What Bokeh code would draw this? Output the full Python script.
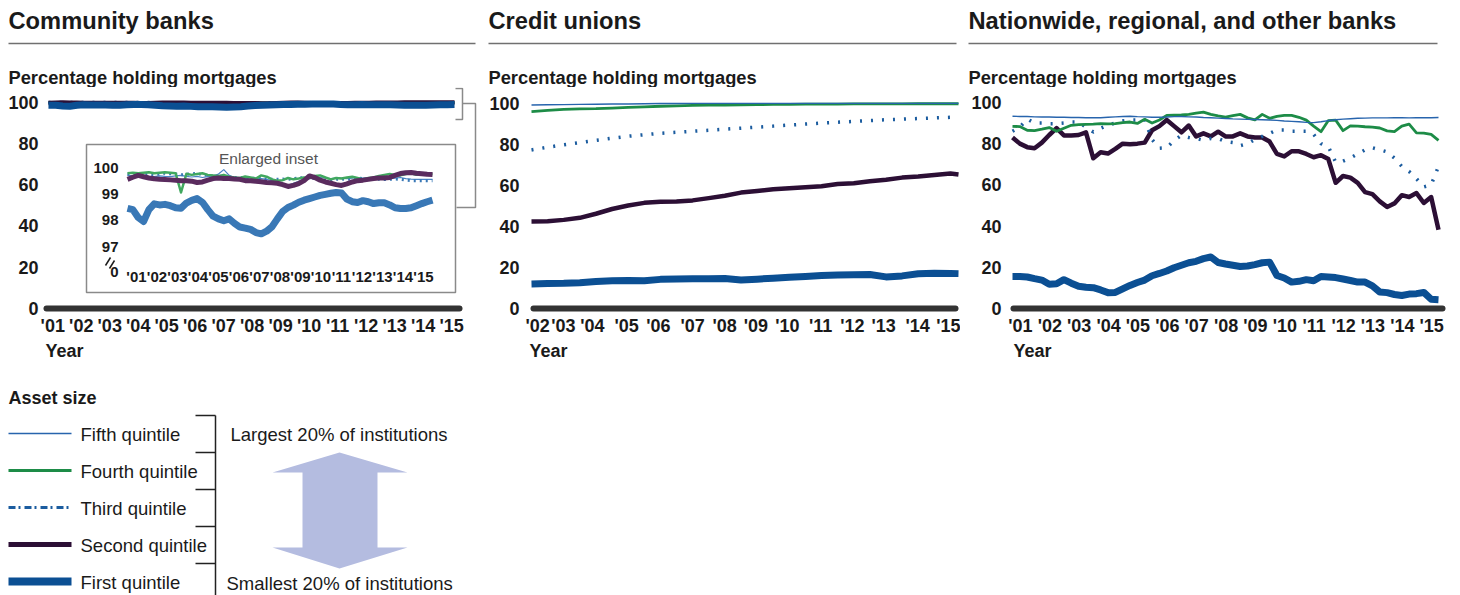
from bokeh.plotting import figure
from bokeh.models import Range1d, FixedTicker, CustomJSTickFormatter
from bokeh.layouts import row, column
from bokeh.embed import file_html
from bokeh.resources import INLINE
from bokeh.core.properties import value

FONT = "Liberation Sans"
INK = "#1a1a1a"

# ------------------------------------------------------------------ data
PANEL_TITLES = ["Community banks", "Credit unions", "Nationwide, regional, and other banks"]
SUBTITLE = "Percentage holding mortgages"
X_TITLE = "Year"
YEAR_LABELS = ["'01", "'02", "'03", "'04", "'05", "'06", "'07", "'08", "'09", "'10",
               "'11", "'12", "'13", "'14", "'15"]
CU_TICK_LABELS = ["'02", "'03", "'04", "'05", "'06", "'07", "'08", "'09", "'10",
                  "'11", "'12", "'13", "'14", "'15"]
Y_TICKS = [0, 20, 40, 60, 80, 100]
INSET_Y_TICKS = [100, 99, 98, 97]
INSET_TITLE = "Enlarged inset"
LEGEND_TITLE = "Asset size"
QUINTILES = ["Fifth quintile", "Fourth quintile", "Third quintile", "Second quintile", "First quintile"]
SIZE_NOTES = ["Largest 20% of institutions", "Smallest 20% of institutions"]

# Community banks, quarterly 2001Q1 .. 2015Q2
CB_X = [2001 + q / 4 for q in range(58)]
CB_FIRST = [98.45, 98.40, 98.10, 97.95, 98.40, 98.62, 98.58, 98.60, 98.55, 98.47, 98.45, 98.65,
            98.75, 98.82, 98.68, 98.40, 98.15, 98.05, 97.98, 98.05, 97.88, 97.74, 97.70, 97.65,
            97.53, 97.48, 97.58, 97.75, 98.05, 98.33, 98.48, 98.57, 98.68, 98.76, 98.82, 98.88,
            98.94, 98.98, 99.02, 99.05, 99.03, 98.80, 98.70, 98.67, 98.74, 98.70, 98.63, 98.66,
            98.66, 98.58, 98.47, 98.44, 98.44, 98.47, 98.55, 98.63, 98.70, 98.76]
CB_SECOND = [99.55, 99.63, 99.70, 99.65, 99.60, 99.57, 99.55, 99.54, 99.53, 99.52, 99.50, 99.50,
             99.48, 99.43, 99.45, 99.52, 99.58, 99.60, 99.58, 99.58, 99.56, 99.55, 99.50, 99.50,
             99.48, 99.46, 99.43, 99.42, 99.40, 99.35, 99.28, 99.32, 99.39, 99.50, 99.68, 99.62,
             99.52, 99.45, 99.40, 99.35, 99.32, 99.38, 99.45, 99.50, 99.52, 99.55, 99.58, 99.60,
             99.60, 99.62, 99.70, 99.77, 99.80, 99.81, 99.78, 99.76, 99.74, 99.73]
CB_THIRD = [99.75, 99.72, 99.70, 99.72, 99.74, 99.72, 99.75, 99.78, 99.76, 99.75, 99.72, 99.74,
            99.76, 99.78, 99.72, 99.70, 99.68, 99.66, 99.65, 99.64, 99.62, 99.63, 99.60, 99.58,
            99.60, 99.58, 99.56, 99.55, 99.55, 99.56, 99.55, 99.58, 99.60, 99.62, 99.60, 99.58,
            99.55, 99.50, 99.52, 99.55, 99.56, 99.55, 99.58, 99.60, 99.58, 99.55, 99.55, 99.56,
            99.54, 99.55, 99.56, 99.55, 99.52, 99.50, 99.50, 99.50, 99.50, 99.50]
CB_FOURTH = [99.78, 99.80, 99.78, 99.80, 99.82, 99.78, 99.80, 99.82, 99.80, 99.78, 99.05, 99.76,
             99.72, 99.75, 99.78, 99.72, 99.70, 99.68, 99.72, 99.65, 99.62, 99.60, 99.66, 99.62,
             99.58, 99.70, 99.65, 99.55, 99.50, 99.52, 99.60, 99.55, 99.58, 99.62, 99.60, 99.68,
             99.70, 99.62, 99.55, 99.60, 99.58, 99.62, 99.65, 99.60, 99.55, 99.60, 99.62, 99.68,
             99.72, 99.75, 99.72, 99.70, 99.75, 99.78, 99.72, 99.75, 99.74, 99.75]
CB_FIFTH = [99.70, 99.68, 99.65, 99.60, 99.62, 99.65, 99.68, 99.66, 99.65, 99.68, 99.70, 99.66,
            99.64, 99.66, 99.62, 99.65, 99.68, 99.75, 99.92, 99.70, 99.62, 99.60, 99.58, 99.62,
            99.60, 99.58, 99.55, 99.50, 99.42, 99.35, 99.32, 99.40, 99.48, 99.55, 99.58, 99.60,
            99.62, 99.60, 99.58, 99.60, 99.60, 99.58, 99.60, 99.62, 99.60, 99.62, 99.60, 99.62,
            99.60, 99.58, 99.60, 99.62, 99.58, 99.56, 99.55, 99.55, 99.55, 99.55]

# Credit unions, half-yearly 2002 .. 2015 plus 2015Q2
CU_X = [2002 + h / 2 for h in range(27)] + [2015.25]
CU_FIRST = [12.0, 12.2, 12.3, 12.6, 13.2, 13.5, 13.7, 13.5, 14.2, 14.4, 14.5, 14.5, 14.6, 13.9,
            14.3, 14.8, 15.2, 15.6, 16.1, 16.3, 16.5, 16.6, 15.4, 15.9, 16.9, 17.2, 17.1, 17.0]
CU_SECOND = [42.4, 42.5, 43.2, 44.2, 46.2, 48.5, 50.2, 51.5, 52.0, 52.2, 52.7, 53.8, 55.0, 56.5,
             57.3, 58.1, 58.6, 59.1, 59.6, 60.7, 61.1, 62.0, 62.8, 63.8, 64.3, 65.1, 65.8, 65.3]
CU_THIRD = [77.3, 78.6, 79.8, 80.9, 82.0, 83.0, 84.0, 84.7, 85.4, 85.9, 86.4, 86.9, 87.4, 87.9,
            88.4, 88.9, 89.4, 89.9, 90.4, 90.8, 91.2, 91.6, 92.0, 92.3, 92.6, 92.9, 93.2, 93.2]
CU_FOURTH = [96.0, 96.6, 97.1, 97.3, 97.4, 97.7, 98.0, 98.3, 98.6, 98.8, 99.0, 99.1, 99.2, 99.3,
             99.4, 99.5, 99.5, 99.6, 99.6, 99.6, 99.7, 99.7, 99.7, 99.7, 99.8, 99.8, 99.8, 99.8]
CU_FIFTH = [99.2, 99.3, 99.4, 99.5, 99.6, 99.7, 99.7, 99.8, 99.9, 99.9, 100.0, 100.0, 100.0, 100.0,
            100.0, 100.0, 100.0, 100.0, 100.0, 100.0, 100.0, 100.0, 100.0, 100.0, 100.0, 100.0, 100.0, 100.0]

# Nationwide, regional and other banks, quarterly 2001Q1 .. 2015Q3
NW_X = [2001 + q / 4 for q in range(59)]
NW_FIRST = [15.5, 15.5, 15.3, 14.5, 13.8, 11.8, 12.0, 14.0, 12.3, 10.8, 10.3, 10.1, 9.0, 7.7, 7.8, 9.5,
            11.2, 12.6, 13.8, 15.9, 17.0, 18.2, 19.8, 21.0, 22.2, 22.9, 24.2, 25.0, 22.3, 21.6, 21.0, 20.4,
            20.6, 21.3, 22.2, 22.5, 16.0, 14.8, 12.8, 13.2, 14.0, 13.5, 15.5, 15.3, 15.0, 14.3, 13.6, 12.8,
            12.8, 11.0, 8.0, 7.7, 6.8, 6.3, 7.0, 7.2, 7.8, 4.5, 4.3]
NW_SECOND = [83.0, 80.0, 78.3, 77.8, 80.5, 84.2, 87.5, 84.0, 84.0, 84.2, 85.5, 72.9, 75.8, 75.2, 77.5, 80.0,
             79.7, 80.0, 80.5, 86.5, 88.5, 91.5, 88.5, 85.5, 88.8, 83.5, 85.0, 83.5, 85.8, 83.5, 83.5, 85.0,
             83.5, 83.0, 83.0, 81.0, 75.0, 73.8, 76.3, 76.3, 75.0, 73.4, 74.4, 72.5, 61.0, 64.3, 63.5, 61.0,
             56.5, 55.5, 52.0, 49.3, 51.0, 55.0, 54.1, 56.0, 51.2, 54.1, 38.2]
NW_THIRD = [86.0, 88.0, 92.0, 90.0, 90.0, 89.7, 89.7, 90.0, 90.5, 90.5, 88.0, 85.7, 87.5, 89.0, 90.0, 91.0,
            91.5, 91.5, 91.5, 82.0, 77.8, 78.0, 81.6, 84.0, 83.0, 82.5, 81.6, 82.5, 82.5, 81.0, 80.5, 79.0,
            80.0, 82.0, 83.5, 85.0, 86.6, 86.6, 86.0, 86.0, 86.0, 84.5, 80.0, 78.5, 71.0, 71.5, 73.0, 75.0,
            77.0, 78.0, 77.0, 76.0, 73.0, 69.0, 66.5, 63.0, 59.0, 60.0, 69.0]
NW_FOURTH = [88.4, 88.3, 86.5, 86.3, 87.0, 87.8, 86.0, 87.5, 88.9, 89.2, 89.4, 89.5, 89.7, 89.6, 89.7, 90.2,
             90.5, 89.8, 91.8, 90.0, 91.5, 93.7, 93.8, 93.9, 94.2, 94.8, 95.3, 94.2, 93.5, 92.9, 93.6, 94.2,
             92.5, 91.5, 94.2, 92.3, 93.2, 93.7, 93.7, 92.8, 91.4, 88.5, 85.8, 91.2, 91.4, 86.3, 88.6, 88.5,
             88.2, 88.0, 87.6, 86.2, 85.8, 88.5, 89.5, 85.2, 85.1, 84.5, 81.6]
NW_FIFTH = [93.3, 93.2, 93.2, 93.0, 92.9, 92.9, 92.8, 92.8, 92.7, 92.7, 92.6, 92.6, 92.6, 92.8, 93.0, 93.2,
            93.3, 93.1, 93.0, 92.8, 92.8, 92.9, 93.1, 93.2, 93.0, 92.9, 92.7, 92.6, 92.4, 92.2, 92.0, 91.9,
            91.8, 91.7, 91.6, 91.5, 91.3, 91.0, 90.8, 90.6, 90.3, 90.2, 90.6, 91.2, 91.6, 91.9, 92.1, 92.3,
            92.4, 92.5, 92.5, 92.5, 92.6, 92.6, 92.5, 92.6, 92.6, 92.6, 92.7]

for s in (CB_FIRST, CB_SECOND, CB_THIRD, CB_FOURTH, CB_FIFTH):
    assert len(s) == len(CB_X)
for s in (CU_FIRST, CU_SECOND, CU_THIRD, CU_FOURTH, CU_FIFTH):
    assert len(s) == len(CU_X)
for s in (NW_FIRST, NW_SECOND, NW_THIRD, NW_FOURTH, NW_FIFTH):
    assert len(s) == len(NW_X)

# ------------------------------------------------------------------ styles
MAIN = {
    "fifth": dict(line_color="#2764ad", line_width=1.4),
    "fourth": dict(line_color="#1d8c47", line_width=2.8),
    "third": dict(line_color="#1b5c9f", line_width=3.5, line_dash="2 9"),
    "second": dict(line_color="#2c0f35", line_width=4.5),
    "first": dict(line_color="#0b4f93", line_width=7),
}
INSET = {
    "fifth": dict(line_color="#4a83c4", line_width=1.2),
    "fourth": dict(line_color="#41a85f", line_width=2.5),
    "third": dict(line_color="#3978b6", line_width=3.0, line_dash="2 4"),
    "second": dict(line_color="#5a2b5e", line_width=5),
    "first": dict(line_color="#3978b6", line_width=7),
}
LEGEND_STYLE = [
    dict(line_color="#2764ad", line_width=1.5),
    dict(line_color="#1d8c47", line_width=3),
    dict(line_color="#1b5c9f", line_width=3, line_dash="7 3 2 4"),
    dict(line_color="#2c0f35", line_width=5),
    dict(line_color="#0b4f93", line_width=8),
]

TICK_JS = """
let best = 0, d = Infinity;
for (let i = 0; i < pos.length; i++) { const e = Math.abs(pos[i] - tick); if (e < d) { d = e; best = i; } }
return labels[best];
"""

PAGE_W = 1460
HEAD_H = 87        # heading strip: y 0..87
ROW_TOP, ROW_BOTTOM = 87, 340   # chart row
PAGE_H = 595


def lin_range(v1, p1, v2, p2, plo, phi):
    s = (p2 - p1) / (v2 - v1)
    return Range1d(start=v1 + (plo - p1) / s, end=v1 + (phi - p1) / s)


def canvas(x0, x1, y0, y1):
    p = figure(width=x1 - x0, height=y1 - y0, x_range=Range1d(x0, x1), y_range=Range1d(y1, y0),
               output_backend="svg", toolbar_location=None,
               x_axis_location=None, y_axis_location=None, min_border=0)
    p.outline_line_color = None
    p.grid.visible = False
    return p


def make_panel(fig_left, width, fl, fr, fb, xr, yr, ticks, labels, bounds, ystand):
    p = figure(width=width, height=ROW_BOTTOM - ROW_TOP, x_range=xr, y_range=yr,
               output_backend="svg", toolbar_location=None,
               min_border_left=fl - fig_left, min_border_right=fig_left + width - fr,
               min_border_top=0, min_border_bottom=ROW_BOTTOM - fb)
    p.outline_line_color = None
    p.grid.visible = False
    xa = p.xaxis[0]
    xa.ticker = FixedTicker(ticks=ticks)
    xa.formatter = CustomJSTickFormatter(args=dict(pos=ticks, labels=labels), code=TICK_JS)
    xa.bounds = bounds
    xa.axis_line_width = 6
    xa.axis_line_color = "#333333"
    xa.axis_line_cap = "round"
    ya = p.yaxis[0]
    ya.ticker = FixedTicker(ticks=Y_TICKS)
    ya.axis_line_color = None
    for ax in (xa, ya):
        ax.major_tick_in = 0
        ax.major_tick_out = 0
        ax.minor_tick_in = 0
        ax.minor_tick_out = 0
        ax.major_tick_line_color = None
        ax.minor_tick_line_color = None
        ax.major_label_text_font = FONT
        ax.major_label_text_font_size = "18px"
        ax.major_label_text_font_style = "bold"
        ax.major_label_text_color = INK
    xa.major_label_standoff = 7
    ya.major_label_standoff = ystand
    return p


def draw(p, x, data, styles, order, **kw):
    for key in order:
        p.line(x=x, y=data[key], line_join="round", **styles[key], **kw)


# ------------------------------------------------------------------ heading strip
TITLE_X = [8, 488, 968]
RULE_END = [475, 956, 1437]
head = canvas(0, PAGE_W, 0, HEAD_H)
head.text(x=TITLE_X, y=[20] * 3, text=PANEL_TITLES, text_font=value(FONT),
          text_font_size=value("23.7px"), text_font_style="bold", text_color=INK,
          text_baseline="middle")
head.segment(x0=TITLE_X, x1=RULE_END, y0=[43] * 3, y1=[43] * 3, line_color="#707070", line_width=1.5)
head.text(x=TITLE_X, y=[77] * 3, text=[SUBTITLE] * 3, text_font=value(FONT),
          text_font_size=value("18.3px"), text_font_style="bold", text_color=INK,
          text_baseline="middle")

# ------------------------------------------------------------------ panel 1: community banks
P1 = dict(fig_left=0, width=480, fl=43, fr=478, fb=308)
p1 = make_panel(P1["fig_left"], P1["width"], P1["fl"], P1["fr"], P1["fb"],
                lin_range(2001.0, 48, 2015.25, 454, P1["fl"], P1["fr"]),
                lin_range(0, 308, 100, 101.5, P1["fb"], ROW_TOP),
                [2001.15 + i for i in range(15)], YEAR_LABELS, (2000.93, 2015.43), 5)
p1.extra_x_ranges = {
    "px": Range1d(P1["fl"], P1["fr"]),
    "ix": lin_range(2001.0, 127, 2015.25, 432, P1["fl"], P1["fr"]),
}
p1.extra_y_ranges = {
    "px": Range1d(P1["fb"], ROW_TOP),
    "iy": lin_range(100, 167, 97, 246, P1["fb"], ROW_TOP),
}
cb = dict(first=CB_FIRST, second=CB_SECOND, third=CB_THIRD, fourth=CB_FOURTH, fifth=CB_FIFTH)
draw(p1, CB_X, cb, MAIN, ["fifth", "fourth", "third", "second", "first"])

GRAY = "#8a8a8a"
px = dict(x_range_name="px", y_range_name="px")
# bracket and connector to the inset
p1.line(x=[455, 462, 462, 455], y=[88, 88, 119, 119], line_color=GRAY, line_width=1.5, **px)
p1.line(x=[462, 475, 475, 456], y=[103, 103, 207, 207], line_color=GRAY, line_width=1.5, **px)
# inset frame
p1.quad(left=[86], right=[455], top=[144], bottom=[292], fill_color="white",
        line_color=GRAY, line_width=1.5, **px)
p1.text(x=[268], y=[158], text=[INSET_TITLE], text_font=value(FONT), text_font_size=value("15.5px"),
        text_color="#555555", text_align="center", text_baseline="middle", **px)
draw(p1, CB_X, cb, INSET, ["first", "fifth", "third", "fourth", "second"],
     x_range_name="ix", y_range_name="iy")
p1.text(x=[118] * len(INSET_Y_TICKS), y=INSET_Y_TICKS, text=[str(v) for v in INSET_Y_TICKS],
        text_font=value(FONT), text_font_size=value("15px"), text_font_style="bold",
        text_color=INK, text_align="right", text_baseline="middle",
        x_range_name="px", y_range_name="iy")
p1.text(x=[118], y=[271], text=["0"], text_font=value(FONT), text_font_size=value("15px"),
        text_font_style="bold", text_color=INK, text_align="right", text_baseline="middle", **px)
p1.segment(x0=[105, 109], y0=[265, 268], x1=[110, 114], y1=[257, 260], line_color=INK,
           line_width=1.5, **px)
p1.text(x=[136 + 20.5 * i for i in range(15)], y=[276] * 15, text=YEAR_LABELS,
        text_font=value(FONT), text_font_size=value("15px"), text_font_style="bold",
        text_color=INK, text_align="center", text_baseline="middle", **px)

# ------------------------------------------------------------------ panel 2: credit unions
P2 = dict(fig_left=480, width=480, fl=527, fr=960, fb=310)
CU_TICKS = [2002.19, 2002.99, 2003.89, 2004.95, 2005.94, 2007.0, 2007.99, 2008.96,
            2009.94, 2010.97, 2011.96, 2012.93, 2013.98, 2014.94]
p2 = make_panel(P2["fig_left"], P2["width"], P2["fl"], P2["fr"], P2["fb"],
                lin_range(2002.0, 531, 2015.25, 958, P2["fl"], P2["fr"]),
                lin_range(0, 310, 100, 103, P2["fb"], ROW_TOP),
                CU_TICKS, CU_TICK_LABELS, (2002.06, 2015.16), 8)
cu = dict(first=CU_FIRST, second=CU_SECOND, third=CU_THIRD, fourth=CU_FOURTH, fifth=CU_FIFTH)
draw(p2, CU_X, cu, MAIN, ["first", "second", "third", "fourth", "fifth"])

# ------------------------------------------------------------------ panel 3: nationwide banks
P3 = dict(fig_left=960, width=500, fl=1007, fr=1450, fb=309)
p3 = make_panel(P3["fig_left"], P3["width"], P3["fl"], P3["fr"], P3["fb"],
                lin_range(2001.0, 1012, 2015.5, 1438, P3["fl"], P3["fr"]),
                lin_range(0, 309, 100, 102, P3["fb"], ROW_TOP),
                [2001.27 + i for i in range(15)], YEAR_LABELS, (2001.03, 2015.63), 6)
nw = dict(first=NW_FIRST, second=NW_SECOND, third=NW_THIRD, fourth=NW_FOURTH, fifth=NW_FIFTH)
draw(p3, NW_X, nw, MAIN, ["first", "second", "third", "fourth", "fifth"])

# ------------------------------------------------------------------ bottom strip: axis titles + legend
foot = canvas(0, PAGE_W, ROW_BOTTOM, PAGE_H)
txt = dict(text_font=value(FONT), text_color=INK, text_baseline="middle")
foot.text(x=[45, 529, 1013], y=[350] * 3, text=[X_TITLE] * 3, text_font_size=value("18px"),
          text_font_style="bold", **txt)
foot.text(x=[8], y=[397], text=[LEGEND_TITLE], text_font_size=value("18px"),
          text_font_style="bold", **txt)
ROWS = [433, 470, 507, 544, 581]
for ry, lbl, st in zip(ROWS, QUINTILES, LEGEND_STYLE):
    foot.line(x=[8, 71], y=[ry, ry], **st)
    foot.text(x=[80], y=[ry + 1], text=[lbl], text_font_size=value("18.5px"), **txt)
foot.line(x=[215, 215], y=[415, PAGE_H], line_color="#222222", line_width=1.5)
foot.segment(x0=[195] * 5, x1=[215] * 5, y0=[415, 452, 489, 526, 563], y1=[415, 452, 489, 526, 563],
             line_color="#222222", line_width=1.5)
foot.text(x=[230], y=[434], text=[SIZE_NOTES[0]], text_font_size=value("18.5px"), **txt)
foot.text(x=[226], y=[583], text=[SIZE_NOTES[1]], text_font_size=value("18.5px"), **txt)
foot.patch(x=[339, 407, 377, 377, 407, 339, 272, 302, 302, 272],
           y=[452, 472, 472, 547, 547, 568, 547, 547, 472, 472],
           fill_color="#b4bce0", line_color=None)

layout = column(head, row(p1, p2, p3), foot)
open("out.html", "w").write(file_html(layout, INLINE, "Mortgage holdings"))
